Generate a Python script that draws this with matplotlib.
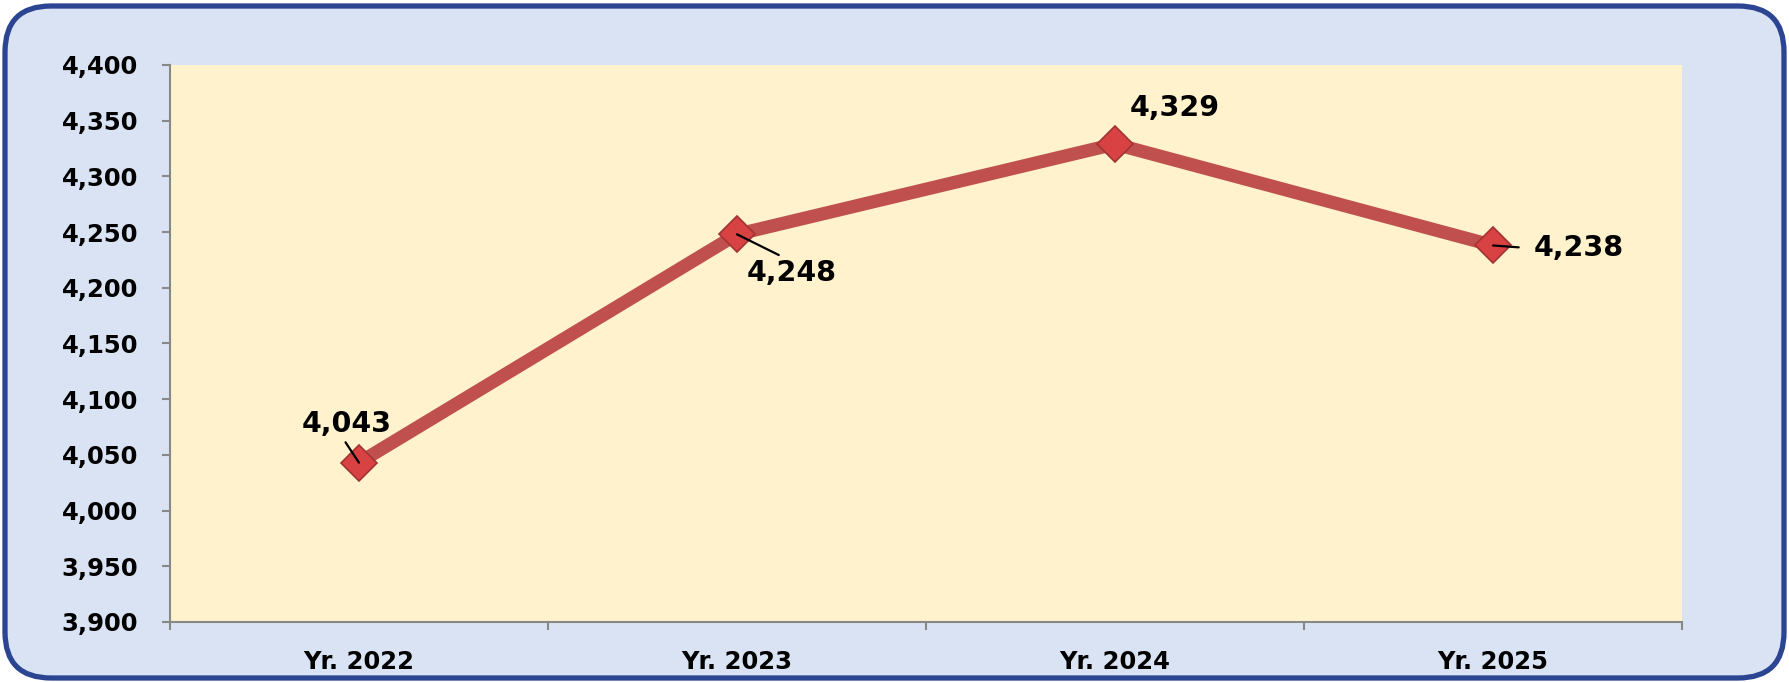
import matplotlib
matplotlib.use("Agg")
import matplotlib.pyplot as plt
from matplotlib.patches import FancyBboxPatch
from matplotlib.transforms import IdentityTransform
from matplotlib.ticker import FuncFormatter, MultipleLocator

years = ["Yr. 2022", "Yr. 2023", "Yr. 2024", "Yr. 2025"]
values = [4043, 4248, 4329, 4238]
# label offsets in pixels (dx, dy), leader attach point on the label, gap (pt)
label_offsets = [(-12, 39), (55, -39), (60, 36), (86, -3)]
leader_relpos = [(0.45, 0.0), (0.45, 1.0), None, (0.0, 0.5)]
leader_gap = [4, 7, 0, 11]

plt.rcParams['font.family'] = ['DejaVu Sans']

fig = plt.figure(figsize=(17.89, 6.82), dpi=100)
fig.patch.set_facecolor("white")

# rounded blue frame behind everything
frame = FancyBboxPatch((5, 4), 1779, 672,
                       boxstyle="round,pad=0,rounding_size=46",
                       transform=IdentityTransform(),
                       facecolor="#DAE3F3", edgecolor="#2C4593",
                       linewidth=3.8, zorder=-10)
fig.patches.append(frame)

ax = fig.add_axes([0.0950, 0.0880, 0.8452, 0.8167])
ax.set_facecolor("#FFF2CC")

x = list(range(len(years)))
ax.plot(x, values, color="#C0504D", linewidth=9.5, solid_capstyle="butt",
        marker="D", markersize=18, markerfacecolor="#D84242",
        markeredgecolor="#A33333", markeredgewidth=1.2, zorder=3)

for i, v in enumerate(values):
    dx, dy = label_offsets[i]
    arrow = None
    if leader_relpos[i] is not None:
        arrow = dict(arrowstyle="-", color="black", lw=1.6, relpos=leader_relpos[i],
                     patchA=None, shrinkA=leader_gap[i], shrinkB=0)
    ax.annotate(f"{v:,}", xy=(i, v), xytext=(dx, dy), textcoords="offset pixels",
                ha="center", va="center", fontsize=20.5, fontweight="bold",
                color="black", arrowprops=arrow, zorder=5)

ax.set_xlim(-0.5, len(years) - 0.5)
ax.set_ylim(3900, 4400)
ax.yaxis.set_major_locator(MultipleLocator(50))
ax.yaxis.set_major_formatter(FuncFormatter(lambda v, p: f"{int(v):,}"))

ax.set_xticks(x)
ax.set_xticklabels(years)
ax.set_xticks([i - 0.5 for i in range(len(years) + 1)], minor=True)
ax.tick_params(axis="x", which="major", length=0, pad=20)
ax.tick_params(axis="x", which="minor", length=6, width=1.5, color="#888888", direction="out")
ax.tick_params(axis="y", length=6, width=1.5, color="#888888", pad=17)

for lab in ax.get_xticklabels() + ax.get_yticklabels():
    lab.set_fontsize(17.5)
    lab.set_fontweight("bold")

for side in ["top", "right"]:
    ax.spines[side].set_visible(False)
for side in ["left", "bottom"]:
    ax.spines[side].set_color("#888888")
    ax.spines[side].set_linewidth(1.5)

fig.savefig("out.png", dpi=100, facecolor=fig.get_facecolor())
